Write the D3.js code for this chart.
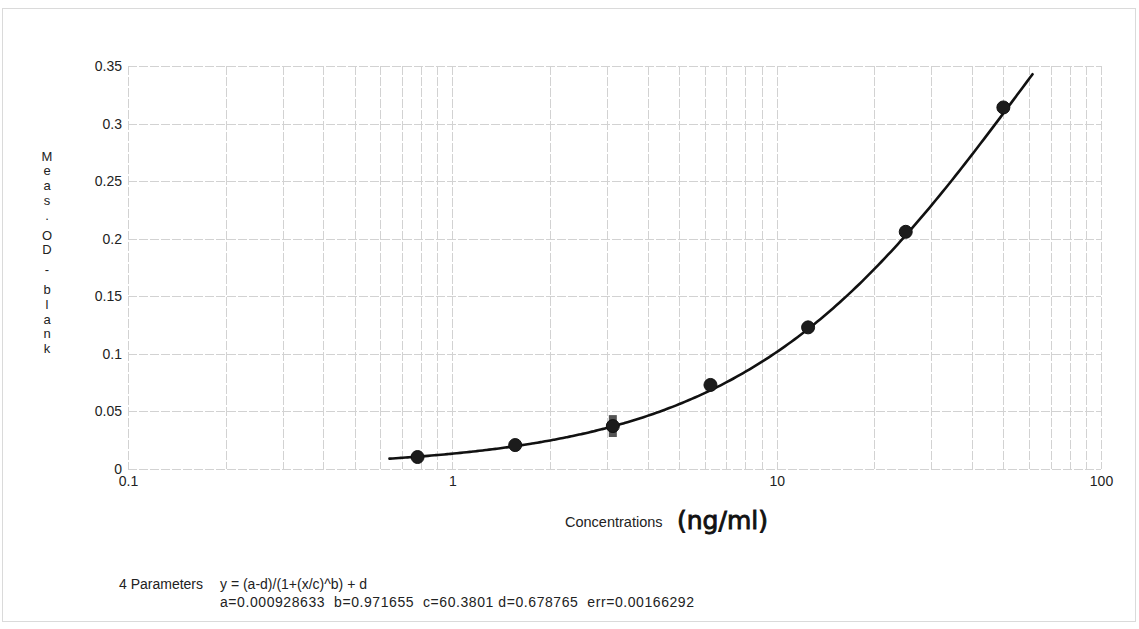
<!DOCTYPE html>
<html>
<head>
<meta charset="utf-8">
<script src="https://cdn.jsdelivr.net/npm/d3@7"></script>
<style>
  html, body { margin: 0; padding: 0; background: #fff; }
  svg { display: block; }
  text { font-family: "Liberation Sans", Arial, sans-serif; fill: #222; }
</style>
</head>
<body>
<svg id="chart" width="1139" height="629"></svg>
<script>
// Standard concentrations (ng/ml), two-fold dilution series
const concentrations = [0.78125, 1.5625, 3.125, 6.25, 12.5, 25, 50];
// Mean OD minus blank for each standard
const odValues = [0.0104, 0.0208, 0.0373, 0.073, 0.123, 0.206, 0.314];
// Standard deviation of replicate wells
const odErrors = [0, 0, 0.0095, 0, 0, 0, 0];

// 4-parameter logistic fit: y = (a-d)/(1+(x/c)^b) + d
const fitNames = ["a", "b", "c", "d"];
const fitValues = [0.000928633, 0.971655, 60.3801, 0.678765];
const fitError = 0.00166292;
const fitRange = [0.64, 61.5];

const yTicks = [0, 0.05, 0.1, 0.15, 0.2, 0.25, 0.3, 0.35];
const xTicks = [0.1, 1, 10, 100];
const yTitle = "Meas. OD - blank";
const xTitle = "Concentrations";
const xUnit = "(ng/ml)";

const svg = d3.select("#chart");

// outer frame of the printout
svg.append("rect")
  .attr("x", 2.5).attr("y", 8.5)
  .attr("width", 1133).attr("height", 613)
  .attr("fill", "none").attr("stroke", "#dadada").attr("stroke-width", 1);

const x = d3.scaleLog().domain([0.1, 100]).range([128, 1101]);
const y = d3.scaleLinear().domain([0, 0.35]).range([469, 66]);

// log minor grid: 1..9 in every decade
const minor = [];
[0.1, 1, 10].forEach(dec => { for (let k = 1; k <= 9; k++) minor.push(dec * k); });
minor.push(100);

const grid = svg.append("g")
  .attr("stroke", "#d2d2d2").attr("stroke-width", 1).attr("stroke-dasharray", "9,2");

grid.selectAll(".vg").data(minor).join("line")
  .attr("class", "vg")
  .attr("x1", d => Math.round(x(d)) + 0.5).attr("x2", d => Math.round(x(d)) + 0.5)
  .attr("y1", y(0.35)).attr("y2", y(0));

grid.selectAll(".hg").data(yTicks).join("line")
  .attr("class", "hg")
  .attr("x1", x(0.1)).attr("x2", x(100))
  .attr("y1", d => Math.round(y(d)) + 0.5).attr("y2", d => Math.round(y(d)) + 0.5);

// axes (labels only, the grid carries the lines)
const yAxis = svg.append("g")
  .attr("transform", `translate(${x(0.1)},0)`)
  .call(d3.axisLeft(y).tickValues(yTicks).tickSize(0).tickPadding(6).tickFormat(d => String(d)));
yAxis.select(".domain").remove();
yAxis.selectAll("text").style("font-size", "14px").attr("fill", "#222");

const xAxis = svg.append("g")
  .attr("transform", `translate(0,${y(0)})`)
  .call(d3.axisBottom(x).tickValues(xTicks).tickSize(0).tickPadding(7).tickFormat(d => String(d)));
xAxis.select(".domain").remove();
xAxis.selectAll("text").style("font-size", "14px").attr("fill", "#222");

// vertical stacked y title
const chars = yTitle.split("");
let yy = 156;
const yt = svg.append("g").attr("font-size", "13px");
chars.forEach(ch => {
  if (ch === " ") { yy += 5; return; }
  yt.append("text")
    .attr("x", 47).attr("y", yy)
    .attr("text-anchor", "middle").attr("dominant-baseline", "central")
    .text(ch);
  yy += 14.8;
});

// x title and handwritten unit
svg.append("text")
  .attr("x", 565).attr("y", 522)
  .attr("dominant-baseline", "central")
  .style("font-size", "14.5px")
  .text(xTitle);
svg.append("text")
  .attr("x", 677).attr("y", 520)
  .attr("dominant-baseline", "central")
  .style("font-family", "'DejaVu Sans', sans-serif")
  .style("font-size", "25px")
  .style("fill", "#111").style("stroke", "#111").style("stroke-width", "0.9px")
  .text(xUnit);

// fitted curve from the 4PL parameters
const [pa, pb, pc, pd] = fitValues;
const logistic = v => (pa - pd) / (1 + Math.pow(v / pc, pb)) + pd;
const curveX = d3.range(0, 201).map(i =>
  Math.pow(10, Math.log10(fitRange[0]) + i / 200 * (Math.log10(fitRange[1]) - Math.log10(fitRange[0]))));
svg.append("path")
  .datum(curveX)
  .attr("fill", "none").attr("stroke", "#111").attr("stroke-width", 2.6)
  .attr("stroke-linecap", "round")
  .attr("d", d3.line().x(d => x(d)).y(d => y(logistic(d))).curve(d3.curveBasis));

const pts = concentrations.map((c, i) => ({ c, v: odValues[i], e: odErrors[i] }));

// error bars
svg.selectAll(".err").data(pts.filter(p => p.e > 0)).join("rect")
  .attr("class", "err")
  .attr("x", d => x(d.c) - 4).attr("width", 8)
  .attr("y", d => y(d.v + d.e)).attr("height", d => y(d.v - d.e) - y(d.v + d.e))
  .attr("fill", "#555");

// standards
svg.selectAll(".pt").data(pts).join("circle")
  .attr("class", "pt")
  .attr("cx", d => x(d.c)).attr("cy", d => y(d.v)).attr("r", 6.5)
  .attr("fill", "#1c1c1c").attr("stroke", "#111").attr("stroke-width", 1);

// fit summary
const legend = svg.append("g").style("font-size", "14px");
legend.append("text").attr("x", 119).attr("y", 589).text("4 Parameters");
legend.append("text").attr("x", 220).attr("y", 589)
  .text("y = (a-d)/(1+(x/c)^b) + d");
const paramLine = fitNames.map((n, i) => `${n}=${fitValues[i]}`);
legend.append("text").attr("x", 220).attr("y", 607)
  .attr("xml:space", "preserve")
  .attr("textLength", 474).attr("lengthAdjust", "spacing")
  .text(`${paramLine[0]}  ${paramLine[1]}  ${paramLine[2]} ${paramLine[3]}  err=${fitError}`);
</script>
</body>
</html>
